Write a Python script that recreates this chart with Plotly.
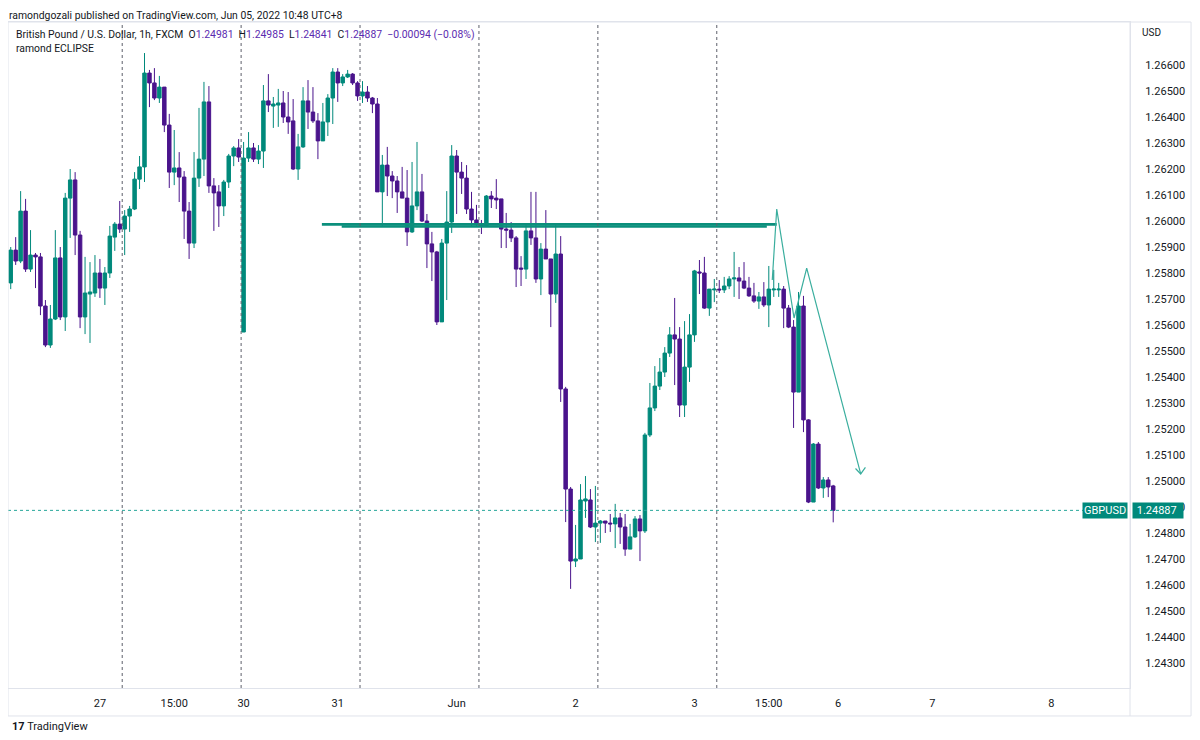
import plotly.graph_objects as go

# GBPUSD 1h (FXCM), 26 May 06:00 -> 4 Jun 04:00 UTC+8, weekend bars skipped
opens = [1.25762, 1.25888, 1.25846, 1.26038, 1.25815, 1.25869, 1.25862, 1.25673, 1.25523, 1.25623,
         1.25858, 1.25631, 1.26088, 1.26158, 1.25946, 1.25631, 1.25719, 1.25723, 1.25800, 1.25742,
         1.25800, 1.25938, 1.25988, 1.25969, 1.26019, 1.26046, 1.26161, 1.26208, 1.26569, 1.26531,
         1.26473, 1.26515, 1.26369, 1.26188, 1.26204, 1.26169, 1.26038, 1.25915, 1.26165, 1.26238,
         1.26458, 1.26135, 1.26112, 1.26058, 1.26150, 1.26250, 1.26281, 1.25573, 1.26242, 1.26281,
         1.26238, 1.26269, 1.26462, 1.26442, 1.26446, 1.26454, 1.26400, 1.26385, 1.26200, 1.26285,
         1.26462, 1.26419, 1.26385, 1.26308, 1.26381, 1.26473, 1.26573, 1.26531, 1.26554, 1.26565,
         1.26531, 1.26481, 1.26496, 1.26473, 1.26450, 1.26112, 1.26215, 1.26173, 1.26154, 1.26112,
         1.26088, 1.25958, 1.26058, 1.26112, 1.26000, 1.25912, 1.25881, 1.25612, 1.25915, 1.25996,
         1.26250, 1.26188, 1.26165, 1.26046, 1.26004, 1.25988, 1.25981, 1.26096, 1.26088, 1.26085,
         1.25969, 1.25965, 1.25935, 1.25819, 1.25815, 1.25962, 1.25935, 1.25777, 1.25892, 1.25854,
         1.25719, 1.25873, 1.25354, 1.24969, 1.24692, 1.24700, 1.24923, 1.24927, 1.24823, 1.24838,
         1.24846, 1.24838, 1.24835, 1.24858, 1.24823, 1.24738, 1.24785, 1.24854, 1.24808, 1.25177,
         1.25281, 1.25365, 1.25419, 1.25492, 1.25562, 1.25546, 1.25292, 1.25438, 1.25562, 1.25804,
         1.25800, 1.25665, 1.25735, 1.25738, 1.25735, 1.25750, 1.25777, 1.25781, 1.25769, 1.25742,
         1.25712, 1.25692, 1.25708, 1.25677, 1.25735, 1.25735, 1.25738, 1.25665, 1.25592, 1.25342,
         1.25673, 1.25235, 1.24919, 1.25142, 1.24973, 1.25004, 1.24981]
highs = [1.25900, 1.25938, 1.26115, 1.26085, 1.25965, 1.25877, 1.25877, 1.25696, 1.25677, 1.25965,
         1.25900, 1.26108, 1.26200, 1.26188, 1.25962, 1.25862, 1.25842, 1.25869, 1.25854, 1.25823,
         1.25981, 1.25996, 1.26077, 1.26042, 1.26058, 1.26188, 1.26250, 1.26646, 1.26581, 1.26588,
         1.26558, 1.26515, 1.26412, 1.26350, 1.26265, 1.26192, 1.26073, 1.26265, 1.26435, 1.26535,
         1.26519, 1.26165, 1.26138, 1.26158, 1.26258, 1.26288, 1.26315, 1.26304, 1.26342, 1.26300,
         1.26292, 1.26523, 1.26565, 1.26477, 1.26508, 1.26500, 1.26496, 1.26469, 1.26335, 1.26515,
         1.26542, 1.26515, 1.26415, 1.26454, 1.26488, 1.26588, 1.26588, 1.26565, 1.26581, 1.26569,
         1.26538, 1.26538, 1.26519, 1.26477, 1.26473, 1.26254, 1.26285, 1.26192, 1.26173, 1.26208,
         1.26196, 1.26227, 1.26304, 1.26181, 1.26027, 1.25958, 1.25885, 1.25931, 1.26115, 1.26292,
         1.26273, 1.26227, 1.26215, 1.26112, 1.26062, 1.26004, 1.26100, 1.26115, 1.26161, 1.26085,
         1.26031, 1.25996, 1.25942, 1.25865, 1.25988, 1.26112, 1.26112, 1.25915, 1.26042, 1.25854,
         1.25985, 1.25942, 1.25362, 1.24977, 1.24831, 1.24988, 1.25019, 1.24969, 1.24981, 1.24850,
         1.24846, 1.24873, 1.24912, 1.24877, 1.24873, 1.24835, 1.24865, 1.24869, 1.25185, 1.25377,
         1.25442, 1.25473, 1.25515, 1.25592, 1.25704, 1.25592, 1.25615, 1.25642, 1.25812, 1.25850,
         1.25862, 1.25738, 1.25777, 1.25773, 1.25785, 1.25788, 1.25881, 1.25823, 1.25842, 1.25785,
         1.25762, 1.25727, 1.25765, 1.25827, 1.25812, 1.25762, 1.25750, 1.25677, 1.25619, 1.25727,
         1.25712, 1.25238, 1.25146, 1.25150, 1.25015, 1.25015, 1.24985]
lows = [1.25738, 1.25831, 1.25838, 1.25804, 1.25804, 1.25742, 1.25638, 1.25515, 1.25512, 1.25619,
        1.25619, 1.25577, 1.25935, 1.25869, 1.25588, 1.25565, 1.25531, 1.25708, 1.25704, 1.25677,
        1.25781, 1.25885, 1.25954, 1.25869, 1.25958, 1.26042, 1.26123, 1.26150, 1.26438, 1.26465,
        1.26454, 1.26342, 1.26127, 1.26138, 1.26073, 1.25931, 1.25854, 1.25896, 1.26131, 1.26173,
        1.26108, 1.25962, 1.25977, 1.26019, 1.26127, 1.26211, 1.26227, 1.25573, 1.26227, 1.26227,
        1.26219, 1.26204, 1.26419, 1.26358, 1.26362, 1.26377, 1.26335, 1.26196, 1.26158, 1.26281,
        1.26354, 1.26377, 1.26238, 1.26308, 1.26327, 1.26373, 1.26458, 1.26519, 1.26550, 1.26523,
        1.26462, 1.26454, 1.26458, 1.26415, 1.26112, 1.25977, 1.26096, 1.26088, 1.26031, 1.26088,
        1.25904, 1.25954, 1.26042, 1.25996, 1.25819, 1.25769, 1.25600, 1.25612, 1.25696, 1.25954,
        1.26027, 1.26104, 1.26027, 1.25977, 1.25977, 1.25950, 1.25977, 1.26050, 1.26046, 1.25896,
        1.25896, 1.25919, 1.25746, 1.25750, 1.25777, 1.25908, 1.25762, 1.25715, 1.25854, 1.25592,
        1.25685, 1.25304, 1.24842, 1.24585, 1.24669, 1.24700, 1.24858, 1.24819, 1.24765, 1.24762,
        1.24800, 1.24804, 1.24742, 1.24758, 1.24712, 1.24738, 1.24781, 1.24692, 1.24800, 1.25169,
        1.25269, 1.25350, 1.25400, 1.25477, 1.25369, 1.25246, 1.25246, 1.25381, 1.25535, 1.25719,
        1.25662, 1.25635, 1.25688, 1.25723, 1.25723, 1.25738, 1.25708, 1.25700, 1.25738, 1.25708,
        1.25685, 1.25662, 1.25669, 1.25592, 1.25708, 1.25708, 1.25588, 1.25588, 1.25204, 1.25342,
        1.25188, 1.24915, 1.24919, 1.24969, 1.24935, 1.24938, 1.24841]
closes = [1.25888, 1.25846, 1.26038, 1.25815, 1.25869, 1.25862, 1.25673, 1.25523, 1.25623, 1.25858,
          1.25631, 1.26088, 1.26158, 1.25946, 1.25631, 1.25723, 1.25727, 1.25800, 1.25742, 1.25800,
          1.25942, 1.25988, 1.25969, 1.26019, 1.26046, 1.26161, 1.26208, 1.26569, 1.26531, 1.26473,
          1.26515, 1.26369, 1.26188, 1.26204, 1.26169, 1.26038, 1.25915, 1.26165, 1.26238, 1.26458,
          1.26135, 1.26108, 1.26058, 1.26150, 1.26250, 1.26281, 1.26246, 1.26242, 1.26281, 1.26238,
          1.26269, 1.26462, 1.26446, 1.26450, 1.26454, 1.26400, 1.26381, 1.26200, 1.26285, 1.26462,
          1.26419, 1.26385, 1.26308, 1.26381, 1.26473, 1.26573, 1.26531, 1.26554, 1.26565, 1.26531,
          1.26481, 1.26496, 1.26473, 1.26450, 1.26112, 1.26215, 1.26173, 1.26154, 1.26112, 1.26088,
          1.25958, 1.26058, 1.26112, 1.26000, 1.25912, 1.25881, 1.25612, 1.25915, 1.25996, 1.26250,
          1.26188, 1.26165, 1.26046, 1.26004, 1.25988, 1.25981, 1.26096, 1.26085, 1.26081, 1.25969,
          1.25965, 1.25935, 1.25815, 1.25815, 1.25962, 1.25935, 1.25777, 1.25892, 1.25854, 1.25719,
          1.25873, 1.25354, 1.24969, 1.24692, 1.24700, 1.24927, 1.24931, 1.24823, 1.24838, 1.24846,
          1.24838, 1.24835, 1.24858, 1.24823, 1.24738, 1.24785, 1.24854, 1.24808, 1.25177, 1.25281,
          1.25365, 1.25419, 1.25492, 1.25562, 1.25546, 1.25292, 1.25438, 1.25562, 1.25808, 1.25800,
          1.25665, 1.25738, 1.25738, 1.25735, 1.25750, 1.25777, 1.25781, 1.25769, 1.25742, 1.25712,
          1.25692, 1.25708, 1.25677, 1.25738, 1.25738, 1.25738, 1.25665, 1.25592, 1.25342, 1.25673,
          1.25235, 1.24919, 1.25142, 1.24973, 1.25004, 1.24977, 1.24887]
bar_idx = list(range(len(opens)))

# time axis (bar index -> label), session breaks at 05:00
tick_idx = [18, 33, 47, 66, 90, 114, 138, 153, 167, 186, 210]
tick_text = ["27", "15:00", "30", "31", "Jun", "2", "3", "15:00", "6", "7", "8"]
session_breaks = [22.5, 46.5, 70.5, 94.5, 118.5, 142.5]

# price scale labels
price_ticks = [1.243, 1.244, 1.245, 1.246, 1.247, 1.248, 1.249, 1.250, 1.251, 1.252, 1.253, 1.254,
               1.255, 1.256, 1.257, 1.258, 1.259, 1.260, 1.261, 1.262, 1.263, 1.264, 1.265, 1.266]

# user drawings (bar index, price)
level_x = [62.8, 154.6]
level_y = [1.25987, 1.25987]
level2_x = [66.8, 152.6]
level2_y = [1.25979, 1.25979]
path_x = [153.7, 154.6, 158.1, 160.65, 171.55]
path_y = [1.25773, 1.26046, 1.25627, 1.25819, 1.25027]
head_x = [170.5, 171.55, 172.5]
head_y = [1.25048, 1.25027, 1.25052]

last_price = 1.24887

UP = "#00897B"
DOWN = "#4A148C"
TXT = "#131722"
FRAME = "#E0E3EB"
FONT = "Roboto"

fig = go.Figure()

fig.add_trace(go.Candlestick(
    x=bar_idx, open=opens, high=highs, low=lows, close=closes,
    increasing=dict(line=dict(color=UP, width=1), fillcolor=UP),
    decreasing=dict(line=dict(color=DOWN, width=1), fillcolor=DOWN),
    whiskerwidth=0, showlegend=False, hoverinfo="skip",
))

# horizontal level (drawn twice, slightly offset like the original drawing)
for lx, ly in [(level_x, level_y), (level2_x, level2_y)]:
    fig.add_trace(go.Scatter(x=lx, y=ly, mode="lines", line=dict(color="#0B8F7C", width=2.6),
                             showlegend=False, hoverinfo="skip"))

fig.add_trace(go.Scatter(x=path_x, y=path_y, mode="lines", line=dict(color="#3AAE9E", width=1.2),
                         showlegend=False, hoverinfo="skip"))
fig.add_trace(go.Scatter(x=head_x, y=head_y, mode="lines", line=dict(color="#3AAE9E", width=1.2),
                         showlegend=False, hoverinfo="skip"))

# session breaks
for sb in session_breaks:
    fig.add_vline(x=sb, line=dict(color="#5D606B", width=1, dash="dot"))

# last price line
fig.add_hline(y=last_price, line=dict(color="#26A69A", width=1, dash="dot"))

# frame around chart + axis panes
frame = dict(color=FRAME, width=1)
fig.add_shape(type="line", xref="paper", yref="paper", x0=0, x1=1.0544, y0=1, y1=1, line=frame)
fig.add_shape(type="line", xref="paper", yref="paper", x0=0, x1=1.0544, y0=-0.042, y1=-0.042, line=frame)
fig.add_shape(type="line", xref="paper", yref="paper", x0=0, x1=0, y0=-0.042, y1=1, line=frame)
fig.add_shape(type="line", xref="paper", yref="paper", x0=1, x1=1, y0=-0.042, y1=1, line=frame)
fig.add_shape(type="line", xref="paper", yref="paper", x0=1.0544, x1=1.0544, y0=-0.042, y1=1, line=frame)

# price labels on the right
fig.add_annotation(x=0.9982, xref="paper", y=last_price, yref="y", xanchor="right", yanchor="middle",
                   text="GBPUSD", showarrow=False, bgcolor=UP, borderpad=1,
                   font=dict(family=FONT, size=11, color="white"))
fig.add_annotation(x=1.0018, xref="paper", y=last_price, yref="y", xanchor="left", yanchor="middle",
                   text="&nbsp;1.24887&nbsp;&nbsp;", showarrow=False, bgcolor=UP, borderpad=1,
                   font=dict(family=FONT, size=11, color="white"))

# header texts
fig.add_annotation(x=0, xref="paper", y=1.021, yref="paper", xanchor="left", yanchor="top",
                   text="ramondgozali published on TradingView.com, Jun 05, 2022 10:48 UTC+8",
                   showarrow=False, borderpad=0, font=dict(family=FONT, size=10.4, color=TXT))
v = "<span style='color:#5B2BB0'>%s</span>"
legend = ("British Pound / U.S. Dollar, 1h, FXCM&nbsp;&nbsp;"
          "O" + v % "1.24981" + "&nbsp;&nbsp;H" + v % "1.24985" + "&nbsp;&nbsp;L" + v % "1.24841"
          + "&nbsp;&nbsp;C" + v % "1.24887" + "&nbsp;&nbsp;" + v % "−0.00094 (−0.08%)")
fig.add_annotation(x=0.0053, xref="paper", y=0.9805, yref="paper", xanchor="left", yanchor="middle",
                   text=legend, showarrow=False, font=dict(family=FONT, size=10.4, color=TXT))
fig.add_annotation(x=0.0053, xref="paper", y=0.9595, yref="paper", xanchor="left", yanchor="middle",
                   text="ramond ECLIPSE", showarrow=False, font=dict(family=FONT, size=10.4, color=TXT))
fig.add_annotation(x=1.0089, xref="paper", y=0.9835, yref="paper", xanchor="left", yanchor="middle",
                   text="USD", showarrow=False, font=dict(family=FONT, size=10, color=TXT))
fig.add_annotation(x=0.0018, xref="paper", y=-0.058, yref="paper", xanchor="left", yanchor="middle",
                   text="<b>17</b> TradingView", showarrow=False, font=dict(family=FONT, size=11, color=TXT))

# the page body adds an 8px offset, so the figure is drawn 8px smaller and shifted
fig.update_layout(
    width=1192, height=732,
    margin=dict(l=0, r=70, t=14, b=52, autoexpand=False),
    paper_bgcolor="white", plot_bgcolor="white",
    boxgap=0.3, boxgroupgap=0,
    showlegend=False,
    xaxis=dict(
        range=[-0.55, 225.9], rangeslider=dict(visible=False), automargin=False,
        tickmode="array", tickvals=tick_idx, ticktext=tick_text,
        showgrid=False, zeroline=False, showline=True, mirror=True, linecolor=FRAME,
        ticks="", ticklabelstandoff=5,
        tickfont=dict(family=FONT, size=11, color=TXT),
    ),
    yaxis=dict(
        side="right", range=[1.242038, 1.267654], automargin=False,
        tickmode="array", tickvals=price_ticks, tickformat=".5f",
        showgrid=False, zeroline=False, showline=True, mirror=True, linecolor=FRAME,
        ticks="", ticklabelstandoff=12,
        tickfont=dict(family=FONT, size=11, color=TXT),
    ),
)

fig.write_html("out.html")
